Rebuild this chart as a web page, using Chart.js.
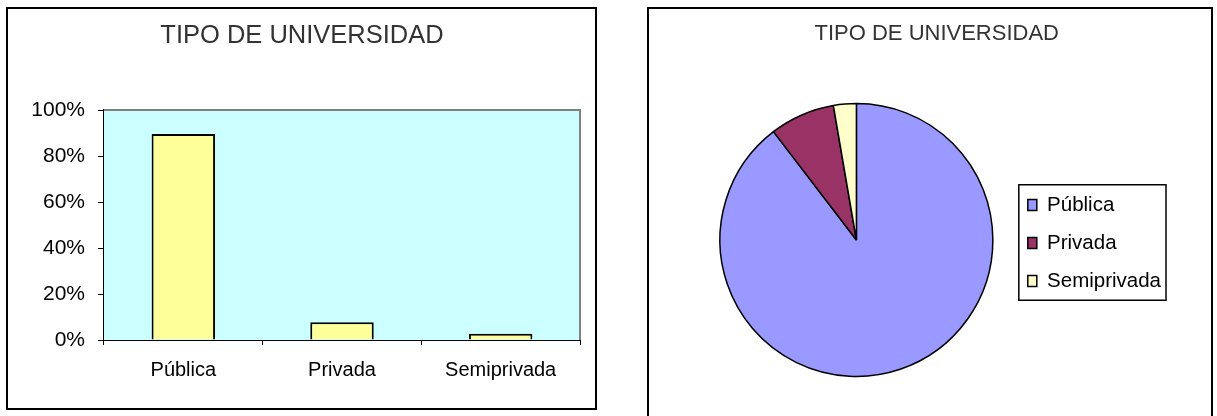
<!DOCTYPE html>
<html>
<head>
<meta charset="utf-8">
<title>Tipo de universidad</title>
<script src="https://cdn.jsdelivr.net/npm/chart.js@4.4.1/dist/chart.umd.min.js"></script>
<style>
    html, body { margin: 0; padding: 0; background: #fff; }
    body { width: 1217px; height: 416px; position: relative; overflow: hidden; }
    .marco { position: absolute; box-sizing: border-box; border: 2px solid #000; background: #fff; }
    #marco_barras { left: 6px; top: 7px; width: 591px; height: 403px; }
    #marco_torta { left: 647px; top: 7px; width: 566px; height: 420px; }
    canvas { position: absolute; left: 0; top: 0; }
</style>
</head>
<body>
<div class="marco" id="marco_barras"><canvas id="tipo_barras" width="587" height="399"></canvas></div>
<div class="marco" id="marco_torta"><canvas id="tipo_torta" width="562" height="407"></canvas></div>
<script>
(function () {
    "use strict";

    var titulo = "TIPO DE UNIVERSIDAD";
    var categorias = ["Pública", "Privada", "Semiprivada"];
    var porcentajes = [89.6, 7.7, 2.7];
    var ejeY = [0, 20, 40, 60, 80, 100];
    var coloresTorta = ["#9999FF", "#993366", "#FFFFCC"];
    var colorBarra = "#FFFF99";

    Chart.defaults.font.family = "'Liberation Sans', Arial, sans-serif";
    Chart.defaults.color = "#000";
    Chart.defaults.animation = false;

    // fondo celeste del area de trazado, con borde gris arriba y a la derecha
    var fondoArea = {
        id: "fondoArea",
        beforeDatasetsDraw: function (chart) {
            var a = chart.chartArea;
            var ctx = chart.ctx;
            ctx.save();
            ctx.fillStyle = "#CCFFFF";
            ctx.fillRect(a.left, a.top, a.right - a.left, a.bottom - a.top);
            ctx.strokeStyle = "#808080";
            ctx.lineWidth = 2;
            ctx.beginPath();
            ctx.moveTo(a.left, a.top);
            ctx.lineTo(a.right, a.top);
            ctx.lineTo(a.right, a.bottom);
            ctx.stroke();
            ctx.restore();
        }
    };

    // recuadro alrededor de la leyenda de la torta
    var marcoLeyenda = {
        id: "marcoLeyenda",
        afterDraw: function (chart) {
            var legend = chart.legend;
            if (!legend || !legend.legendHitBoxes || !legend.legendHitBoxes.length) {
                return;
            }
            var cajas = legend.legendHitBoxes;
            var primera = cajas[0];
            var ultima = cajas[cajas.length - 1];
            var derecha = 0;
            cajas.forEach(function (c) {
                derecha = Math.max(derecha, c.left + c.width);
            });
            var ctx = chart.ctx;
            ctx.save();
            ctx.strokeStyle = "#000";
            ctx.lineWidth = 1.5;
            ctx.strokeRect(primera.left - 9, primera.top - 10,
                derecha + 5 - (primera.left - 9),
                ultima.top + ultima.height + 9 - (primera.top - 10));
            ctx.restore();
        }
    };

    new Chart(document.getElementById("tipo_barras"), {
        type: "bar",
        data: {
            labels: categorias,
            datasets: [
                {
                    data: porcentajes,
                    backgroundColor: colorBarra,
                    borderColor: "#000",
                    borderWidth: 2,
                    categoryPercentage: 1,
                    barPercentage: 0.4
                }
            ]
        },
        options: {
            responsive: false,
            layout: { padding: { left: 16, right: 15, top: 0, bottom: 0 } },
            plugins: {
                legend: { display: false },
                tooltip: { enabled: false },
                title: {
                    display: true,
                    text: titulo,
                    color: "#333",
                    font: { size: 25.5, weight: "normal" },
                    padding: { top: 11.7, bottom: 58.7 }
                }
            },
            scales: {
                x: {
                    offset: true,
                    grid: {
                        offset: true,
                        drawOnChartArea: false,
                        drawTicks: true,
                        tickLength: 5,
                        color: "#000",
                        lineWidth: 1
                    },
                    border: { color: "#000", width: 2 },
                    ticks: { font: { size: 20 }, padding: 13, maxRotation: 0 },
                    afterFit: function (scale) {
                        scale.height = 68;
                    }
                },
                y: {
                    min: ejeY[0],
                    max: ejeY[ejeY.length - 1],
                    afterBuildTicks: function (scale) {
                        scale.ticks = ejeY.map(function (v) {
                            return { value: v };
                        });
                    },
                    grid: {
                        drawOnChartArea: false,
                        drawTicks: true,
                        tickLength: 6,
                        color: "#000",
                        lineWidth: 1
                    },
                    border: { color: "#000", width: 2 },
                    ticks: {
                        font: { size: 21 },
                        padding: 13,
                        callback: function (v) {
                            return v + "%";
                        }
                    },
                    afterFit: function (scale) {
                        scale.width = 80;
                    }
                }
            }
        },
        plugins: [fondoArea]
    });

    new Chart(document.getElementById("tipo_torta"), {
        type: "pie",
        data: {
            labels: categorias,
            datasets: [
                {
                    data: porcentajes,
                    backgroundColor: coloresTorta,
                    borderColor: "#000",
                    borderWidth: 1.5
                }
            ]
        },
        options: {
            responsive: false,
            layout: { padding: { left: 53.5, right: 40, top: 0, bottom: 38.8 } },
            plugins: {
                tooltip: { enabled: false },
                title: {
                    display: true,
                    text: titulo,
                    color: "#333",
                    font: { size: 22, weight: "normal" },
                    padding: { top: 11.8, bottom: 55.6 }
                },
                legend: {
                    position: "right",
                    align: "center",
                    fullSize: false,
                    // titulo vacio: solo baja un poco las entradas
                    title: {
                        display: true,
                        text: "",
                        font: { size: 5 },
                        padding: 0
                    },
                    labels: {
                        boxWidth: 9,
                        boxHeight: 11,
                        padding: 17.5,
                        color: "#000",
                        font: { size: 20.5 }
                    }
                }
            }
        },
        plugins: [marcoLeyenda]
    });
})();
</script>
</body>
</html>
